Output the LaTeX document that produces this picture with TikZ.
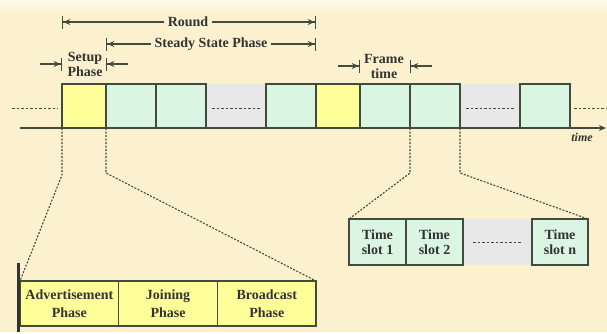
\documentclass[tikz,border=0pt]{standalone}
\usepackage{fontspec}
\setmainfont{Liberation Serif}
\usetikzlibrary{arrows.meta,positioning,calc}
\definecolor{bgc}{HTML}{FCF1CE}
\definecolor{linec}{HTML}{434A3E}
\definecolor{setupc}{HTML}{FFFF9A}
\definecolor{framec}{HTML}{DAF5E2}
\definecolor{gapc}{HTML}{E8E8E8}

\begin{document}
\begin{tikzpicture}[x=1pt,y=-1pt,
  every node/.style={font=\bfseries\fontsize{14}{15}\selectfont,text=black!80},
  slotbox/.style={draw=linec,line width=1.3pt,minimum height=44pt,inner sep=0pt,outer sep=0pt},
  frm/.style={slotbox,fill=framec,minimum width=50pt},
  setup/.style={slotbox,fill=setupc,minimum width=44pt},
  gapbox/.style={fill=gapc,minimum width=58.7pt,minimum height=44pt,inner sep=0pt,outer sep=0.65pt},
  phase/.style={slotbox,fill=setupc,minimum width=98.7pt,minimum height=45pt,align=center,
    font=\bfseries\fontsize{14}{18}\selectfont},
  tslot/.style={slotbox,fill=framec,minimum width=57pt,minimum height=46pt,align=center},
  gapdash/.style={draw=linec,line width=1pt,dash pattern=on 2.5pt off 2pt},
  proj/.style={draw=linec,line width=1.1pt,dash pattern=on 2pt off 1.5pt},
  dim/.style={draw=linec,line width=1.1pt,-{Stealth[length=7pt,width=6pt]Bar[width=13pt,line width=1.3pt]}},
  axis/.style={draw=linec,line width=1.8pt,-{Stealth[length=7pt,width=6pt]}}]
\path[fill=bgc] (0,0) rectangle (607,332);
\shade[top color=white!55!bgc,bottom color=bgc] (0,0) rectangle (607,16);

% timeline
\node[setup,anchor=south west] (su1) at (62,128) {};
\node[frm,right=0pt of su1] (f1) {};
\node[frm,right=0pt of f1] (f2) {};
\node[gapbox,right=0pt of f2] (g1) {};
\node[frm,right=0pt of g1] (f3) {};
\node[setup,right=0pt of f3] (su2) {};
\node[frm,right=0pt of su2] (f4) {};
\node[frm,right=0pt of f4] (f5) {};
\node[gapbox,right=0pt of f5] (g2) {};
\node[frm,right=0pt of g2] (f6) {};
\draw[gapdash] ([shift={(6,2)}]g1.west) -- ([shift={(-6,2)}]g1.east);
\draw[gapdash] ([shift={(6,2)}]g2.west) -- ([shift={(-6,2)}]g2.east);

\coordinate (lin) at (12,108);
\coordinate (t0) at (20,128);
\coordinate (t1) at (606,128);
\draw[gapdash] (lin) -- ([xshift=-4pt]lin -| su1.west);
\draw[gapdash] ([xshift=4pt]lin -| f6.east) -- (lin -| t1);
\draw[axis] (t0) -- (t1);
\node[font=\bfseries\itshape\fontsize{12}{12}\selectfont] (tlab) at (582,137) {time};

% spans above
\node (round) at (188,22) {Round};
\draw[dim] (round) -- (round -| su1.west);
\draw[dim] (round) -- (round -| f3.east);
\node (steady) at (211,44) {Steady State Phase};
\draw[dim] (steady) -- (steady -| su1.east);
\draw[dim] (steady) -- (steady -| f3.east);
\node[align=center] (setupl) at (85,64) {Setup\\Phase};
\draw[dim] ([xshift=-22pt]setupl -| su1.west) -- (setupl -| su1.west);
\draw[dim] ([xshift=22pt]setupl -| su1.east) -- (setupl -| su1.east);
\node[align=center] (framel) at (384,66) {Frame\\time};
\draw[dim] ([xshift=-22pt]framel -| f4.west) -- (framel -| f4.west);
\draw[dim] ([xshift=22pt]framel -| f4.east) -- (framel -| f4.east);

% setup phase detail
\node[phase,anchor=north west] (adv) at (20,281) {Advertisement\\Phase};
\node[phase,right=0pt of adv] (join) {Joining\\Phase};
\node[phase,right=0pt of join] (bcast) {Broadcast\\Phase};
\draw[line width=2.4pt,black!80] ([shift={(-1.5pt,18pt)}]adv.north west) -- ([shift={(-1.5pt,-6pt)}]adv.south west);
\draw[proj] (su1.south west) -- ([yshift=-47pt]su1.south west) -- (adv.north west);
\draw[proj] (su1.south east) -- ([yshift=-45pt]su1.south east) -- (bcast.north east);

% frame detail
\node[tslot,anchor=north west] (ts1) at (349,219) {Time\\slot 1};
\node[tslot,right=0pt of ts1] (ts2) {Time\\slot 2};
\node[gapbox,minimum width=67.7pt,minimum height=46pt,right=0pt of ts2] (tsg) {};
\node[tslot,minimum width=56pt,right=0pt of tsg] (tsn) {Time\\slot n};
\draw[gapdash] ([xshift=10pt]tsg.west) -- ([xshift=-10pt]tsg.east);
\draw[proj] (f4.south east) -- ([yshift=-45pt]f4.south east) -- (ts1.north west);
\draw[proj] (f5.south east) -- ([yshift=-45pt]f5.south east) -- (tsn.north east);
\end{tikzpicture}
\end{document}
